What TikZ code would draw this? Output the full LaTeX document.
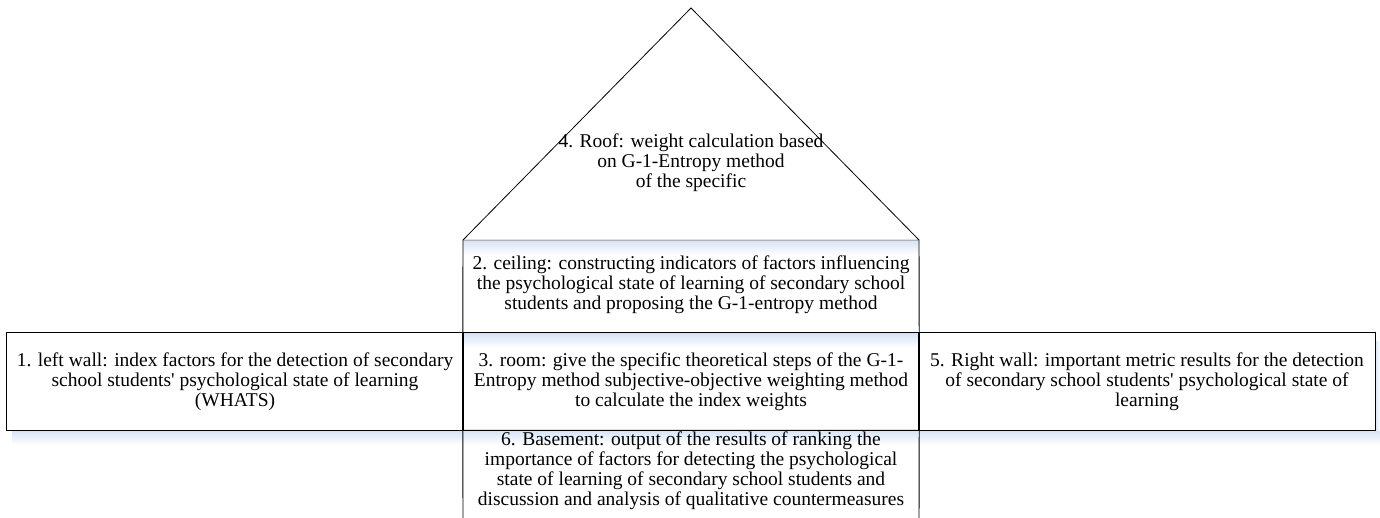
\documentclass[tikz,border=0pt]{standalone}
\usepackage{fontspec}
\setmainfont{Liberation Serif}
\usetikzlibrary{calc}
\definecolor{shadowblue}{RGB}{214,227,245}
\newcommand{\sq}{\textquotesingle}
\begin{document}
\begin{tikzpicture}[x=1pt,y=-1pt,
  txt/.style={font=\fontsize{19.5}{20}\selectfont},
  box/.style={txt, minimum width=456pt, inner sep=0pt, align=center},
  edge/.style={draw=black, line width=0.9pt},
  shadowv/.style={top color=shadowblue, bottom color=white, draw=none},
  shadowh/.style={left color=shadowblue, right color=white, draw=none}]
\clip (0,0) rectangle (1380,518);
\fill[white] (0,0) rectangle (1380,518);
% roof geometry
\coordinate (apex) at (691,8);
\coordinate (bl) at (463,240);
\coordinate (br) at (919,240);
% shadows first, so that text lies above them
\shade[shadowv] (463,240) rectangle (919,255);
\shade[shadowv] (463,333) rectangle (919,348);
\shade[shadowv] (463,430) rectangle (919,445);
\shade[shadowv] (12,430) rectangle (463,445);
\shade[shadowv] (919,430) rectangle (1380,445);
\shade[shadowh] (1375,341) rectangle (1380,430);
% boxes with text
\node[box, minimum height=93pt] (ceil) at (691,285) {2. ceiling: constructing indicators of factors influencing\\the psychological state of learning of secondary school\\students and proposing the G-1-entropy method};
\node[box, minimum height=97pt] (room) at (691,381.5) {3. room: give the specific theoretical steps of the G-1-\\Entropy method subjective-objective weighting method\\to calculate the index weights};
\node[box, minimum height=97pt] (left) at (235,381.5) {1. left wall: index factors for the detection of secondary\\school students\sq{} psychological state of learning\\(WHATS)};
\node[box, minimum height=97pt] (right) at (1147,381.5) {5. Right wall: important metric results for the detection\\of secondary school students\sq{} psychological state of\\learning};
\node[box, minimum height=80pt, anchor=north] (base) at (691,431) {6. Basement: output of the results of ranking the\\importance of factors for detecting the psychological\\state of learning of secondary school students and\\discussion and analysis of qualitative countermeasures};
% roof text
\node[txt, align=center, inner sep=0pt] (roof) at (691,163) {4. Roof: weight calculation based\\on G-1-Entropy method\\of the specific};
% borders
\draw[line width=0.8pt] (bl) -- (apex) -- (br);
\draw[gray!60, line width=0.8pt] (bl) -- (br);
\draw[edge] (bl) -- (room.north west);
\draw[edge] (br) -- (room.north east);
\draw[edge] (room.north west) rectangle (room.south east);
\draw[edge] (left.north west) rectangle (left.south east);
\draw[edge] (right.north west) rectangle (right.south east);
\draw[edge] (463,525) -- (room.south west) -- (room.south east) -- (919,525);
\end{tikzpicture}
\end{document}
